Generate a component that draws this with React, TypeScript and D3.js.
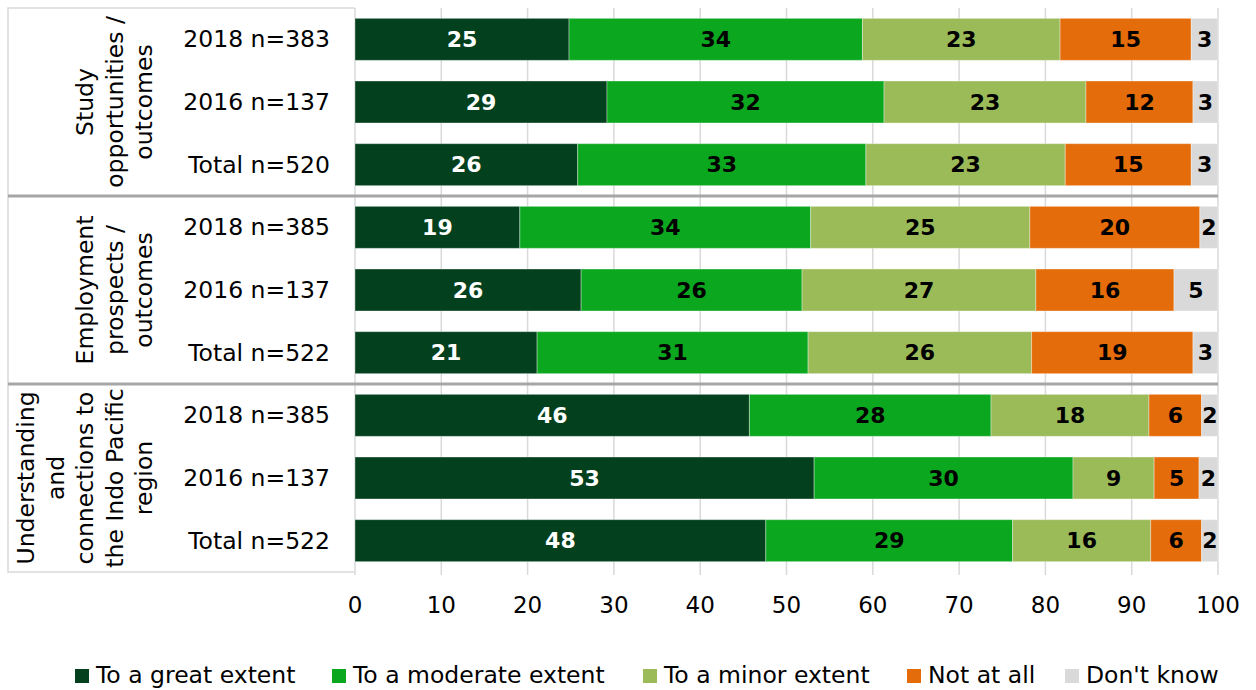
import * as d3 from "d3";

// categories
const groupLines = [
    ["Study", "opportunities /", "outcomes"],
    ["Employment", "prospects /", "outcomes"],
    ["Understanding", "and", "connections to", "the Indo Pacific", "region"],
];
const rowLabels = [
    "2018 n=383", "2016 n=137", "Total n=520",
    "2018 n=385", "2016 n=137", "Total n=522",
    "2018 n=385", "2016 n=137", "Total n=522",
];
const seriesNames = ["To a great extent", "To a moderate extent", "To a minor extent", "Not at all", "Don't know"];

// series values (percent)
const greatExtent = [24.8, 29.2, 25.8, 19.1, 26.2, 21.1, 45.7, 53.2, 47.6];
const moderateExtent = [34.0, 32.1, 33.4, 33.7, 25.6, 31.4, 28.0, 30.0, 28.6];
const minorExtent = [22.9, 23.4, 23.1, 25.4, 27.1, 25.9, 18.3, 9.4, 16.0];
const notAtAll = [15.2, 12.4, 14.6, 19.7, 16.0, 18.7, 6.1, 5.2, 5.9];
const dontKnow = [3.1, 2.9, 3.1, 2.1, 5.1, 2.9, 1.9, 2.2, 1.9];

const xTicks = [0, 10, 20, 30, 40, 50, 60, 70, 80, 90, 100];

const colors = ["#03401d", "#0ba71f", "#9bbb59", "#e46c0a", "#d9d9d9"];
const labelColors = ["#ffffff", "#000000", "#000000", "#000000", "#000000"];
const legendX = [75, 332, 643, 907, 1065];

const font = "DejaVu Sans, Verdana, sans-serif";

function App() {
    const width = 1256;
    const height = 690;
    const plot = { left: 355, right: 1218, top: 8, bottom: 572 };

    const rows = rowLabels.map((_, i) => `r${i}`);
    const table = rows.map((id, i) => ({
        id,
        [seriesNames[0]]: greatExtent[i],
        [seriesNames[1]]: moderateExtent[i],
        [seriesNames[2]]: minorExtent[i],
        [seriesNames[3]]: notAtAll[i],
        [seriesNames[4]]: dontKnow[i],
    }));
    const stacked = d3.stack<any>().keys(seriesNames)(table);

    const x = d3.scaleLinear().domain([0, 100]).range([plot.left, plot.right]);
    const y = d3.scaleBand().domain(rows).range([plot.top, plot.bottom]).paddingInner(0.33).paddingOuter(0.165);
    const step = y.step();

    return (
        <svg width={width} height={height} style={{ position: "absolute", left: 0, top: 0, background: "#ffffff", fontFamily: font }}>
            {/* gridlines */}
            {xTicks.map((t) => (
                <line key={t} x1={x(t)} x2={x(t)} y1={plot.top} y2={plot.bottom + 3} stroke="#d9d9d9" strokeWidth={1.5} />
            ))}

            {/* label box */}
            <path d={`M${plot.left},${plot.top}H8V${plot.bottom}H${plot.left}`} fill="none" stroke="#d9d9d9" strokeWidth={1.5} />

            {/* bars */}
            {stacked.map((s, si) => (
                <g key={s.key}>
                    {s.map((d, i) => (
                        <rect key={i} x={x(d[0])} y={y(rows[i])!} width={x(d[1]) - x(d[0])} height={y.bandwidth()}
                            fill={colors[si]} stroke="#ffffff" strokeOpacity={0.35} strokeWidth={1} />
                    ))}
                </g>
            ))}

            {/* value labels */}
            {stacked.map((s, si) => (
                <g key={s.key}>
                    {s.map((d, i) => (
                        <text key={i} x={(x(d[0]) + x(d[1])) / 2} y={y(rows[i])! + y.bandwidth() / 2 + 7.8}
                            textAnchor="middle" fontSize={22} fontWeight="bold" fill={labelColors[si]}>
                            {Math.round(d[1] - d[0])}
                        </text>
                    ))}
                </g>
            ))}

            {/* row labels */}
            {rowLabels.map((label, i) => (
                <text key={i} x={330} y={y(rows[i])! + y.bandwidth() / 2 + 8} textAnchor="end" fontSize={23.5} fill="#000">
                    {label}
                </text>
            ))}

            {/* group labels */}
            {groupLines.map((lines, g) => {
                const cy = plot.top + step * (g * 3 + 1.5);
                return (
                    <g key={g}>
                        {lines.map((line, li) => {
                            const bx = 152 - (lines.length - 1 - li) * 29.5;
                            return (
                                <text key={li} transform={`translate(${bx},${cy}) rotate(-90)`} textAnchor="middle" fontSize={23.5} fill="#000">
                                    {line}
                                </text>
                            );
                        })}
                    </g>
                );
            })}

            {/* group separators */}
            {[1, 2].map((g) => (
                <line key={g} x1={8} x2={plot.right} y1={plot.top + step * g * 3} y2={plot.top + step * g * 3} stroke="#a6a6a6" strokeWidth={3} />
            ))}

            {/* x tick labels */}
            {xTicks.map((t) => (
                <text key={t} x={x(t)} y={613} textAnchor="middle" fontSize={23} fill="#000">{t}</text>
            ))}

            {/* legend */}
            {seriesNames.map((name, i) => (
                <g key={name} transform={`translate(${legendX[i]},669)`}>
                    <rect width={14} height={14} fill={colors[i]} />
                    <text x={21} y={14} fontSize={23.5} fill="#000">{name}</text>
                </g>
            ))}
        </svg>
    );
}

export default App;
